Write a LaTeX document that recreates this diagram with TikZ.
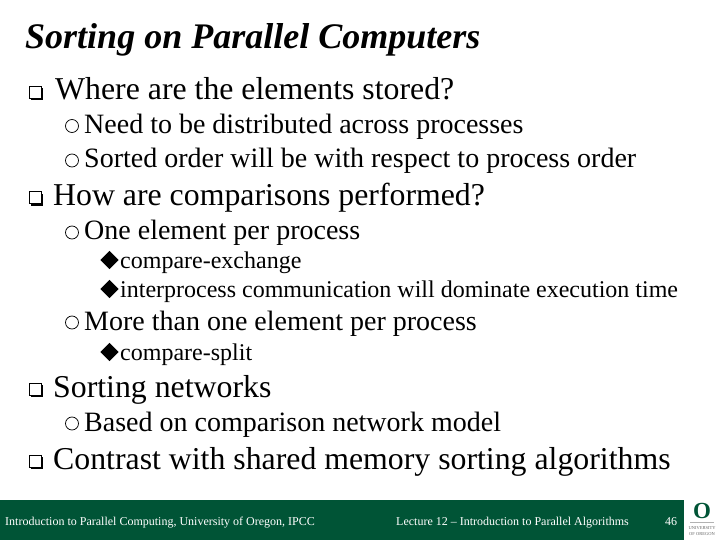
\documentclass[tikz,border=0pt]{standalone}
\usepackage{fontspec}
\setmainfont{Liberation Serif}
\usetikzlibrary{shadows}
\definecolor{oregongreen}{RGB}{0,84,54}
\begin{document}
\begin{tikzpicture}[x=1pt, y=-1pt]
    \tikzstyle{title text} = [anchor=base west, inner sep=0pt, font=\bfseries\itshape\fontsize{36}{38}\selectfont]
    \tikzstyle{level one} = [anchor=base west, inner sep=0pt, font=\fontsize{31.8}{34}\selectfont]
    \tikzstyle{level two} = [anchor=base west, inner sep=0pt, font=\fontsize{28}{30}\selectfont]
    \tikzstyle{level three} = [anchor=base west, inner sep=0pt, font=\fontsize{24}{26}\selectfont]
    \tikzstyle{foot text} = [anchor=base west, inner sep=0pt, text=white, font=\fontsize{12}{14}\selectfont]
    \tikzstyle{square bullet} = [draw=black, fill=white, line width=1pt, minimum size=12pt, inner sep=0pt, drop shadow={shadow xshift=1.6pt, shadow yshift=-1.6pt, opacity=1, fill=black}]
    \tikzstyle{circle bullet} = [circle, draw=black, line width=0.7pt, minimum size=13pt, inner sep=0pt]
    \tikzstyle{diamond bullet} = [fill=black, inner sep=0pt, minimum size=13pt, rotate=45]

    \useasboundingbox (0, 0) rectangle (720, 540);
    \fill[white] (0, 0) rectangle (720, 540);
    \fill[oregongreen] (0, 500) rectangle (684, 540);

    \node[title text] (title) at (25, 49) {Sorting on Parallel Computers};

    \node[square bullet] (sqa) at (35, 92.5) {};
    \node[level one] (where) at (55, 100) {Where are the elements stored?};
    \node[circle bullet] (cia) at (72, 126) {};
    \node[level two] (need) at (84, 133.5) {Need to be distributed across processes};
    \node[circle bullet] (cib) at (72, 160.5) {};
    \node[level two] (sorted) at (84, 168) {Sorted order will be with respect to process order};

    \node[square bullet] (sqb) at (35, 198) {};
    \node[level one] (how) at (53, 206) {How are comparisons performed?};
    \node[circle bullet] (cic) at (72, 232.5) {};
    \node[level two] (one) at (84, 240) {One element per process};
    \node[diamond bullet] (dia) at (109.5, 260) {};
    \node[level three] (exchange) at (120, 268) {compare-exchange};
    \node[diamond bullet] (dib) at (109.5, 289) {};
    \node[level three] (inter) at (120, 297) {interprocess communication will dominate execution time};
    \node[circle bullet] (cid) at (72, 322.5) {};
    \node[level two] (more) at (84, 330) {More than one element per process};
    \node[diamond bullet] (dic) at (109.5, 352) {};
    \node[level three] (split) at (120, 360) {compare-split};

    \node[square bullet] (sqc) at (35, 389) {};
    \node[level one] (networks) at (53, 397) {Sorting networks};
    \node[circle bullet] (cie) at (72, 423.5) {};
    \node[level two] (based) at (84, 431) {Based on comparison network model};

    \node[square bullet] (sqd) at (35, 461) {};
    \node[level one] (contrast) at (53, 469) {Contrast with shared memory sorting algorithms};

    \node[foot text] (course) at (5, 525) {Introduction to Parallel Computing, University of Oregon, IPCC};
    \node[foot text] (lecture) at (396, 525) {Lecture 12 -- Introduction to Parallel Algorithms};
    \node[foot text] (page) at (665, 525) {46};

    \node[text=oregongreen, inner sep=0pt, font=\bfseries\fontsize{23}{23}\selectfont] (logo) at (702, 510.5) {O};
    \draw[gray!60, line width=0.4pt] (690, 522) -- (714, 522);
    \node[text=gray!80!black, inner sep=0pt, font=\fontsize{4.5}{5}\selectfont] (univ) at (702, 528) {UNIVERSITY};
    \node[text=gray!80!black, inner sep=0pt, font=\fontsize{4.5}{5}\selectfont] (oforegon) at (702, 534) {OF OREGON};
\end{tikzpicture}
\end{document}
